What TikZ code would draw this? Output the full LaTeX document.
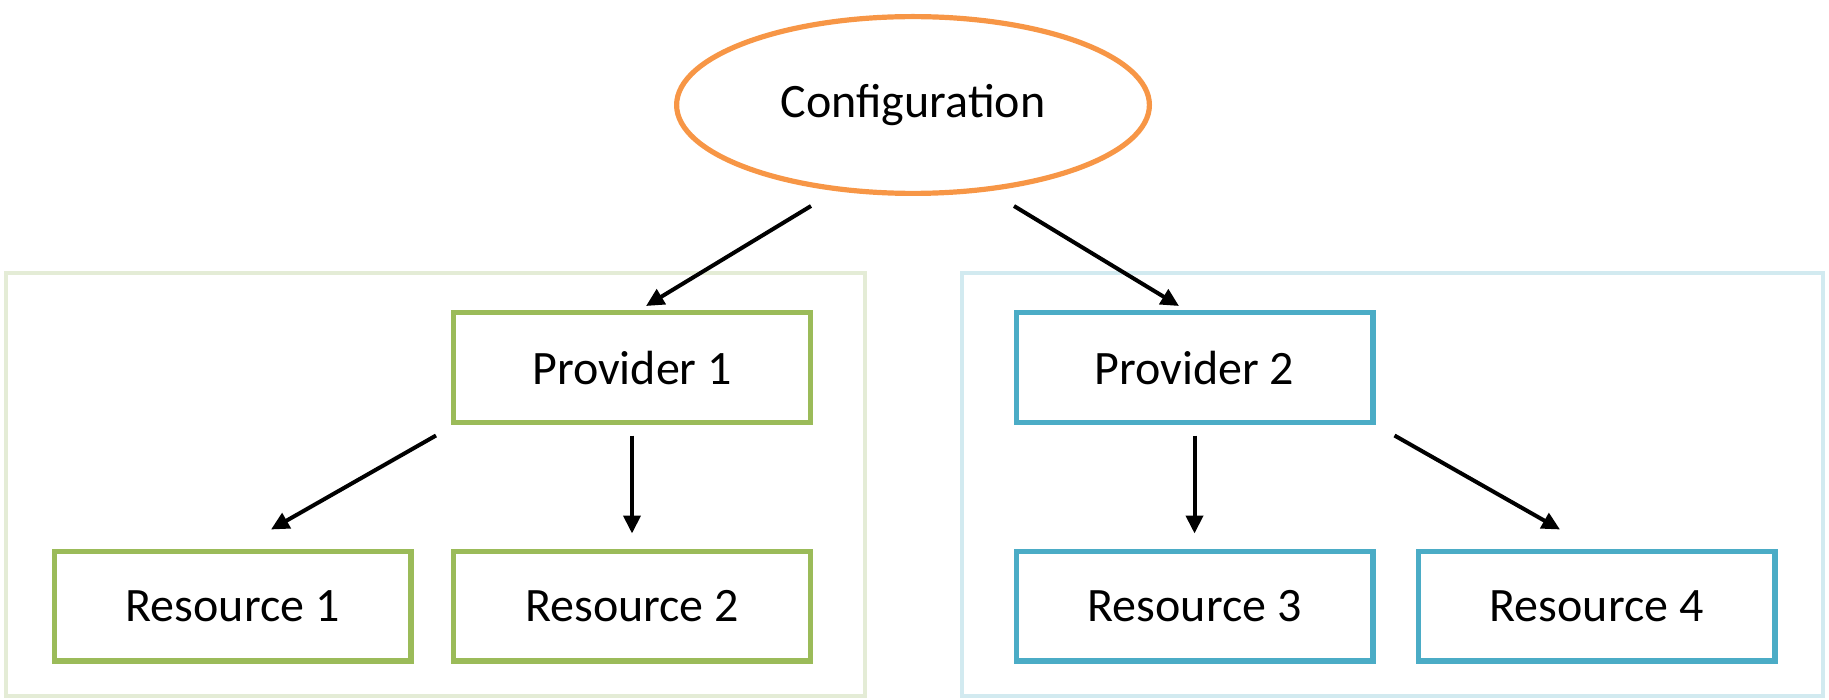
\documentclass[tikz,border=0pt]{standalone}
\usepackage{fontspec}
\setmainfont{Carlito}
\usetikzlibrary{arrows.meta,shapes.geometric}
\definecolor{confline}{HTML}{F79646}
\definecolor{grnline}{HTML}{9BBB59}
\definecolor{grnpale}{HTML}{E4ECD6}
\definecolor{bluline}{HTML}{4BACC6}
\definecolor{blupale}{HTML}{D2EAF0}

\begin{document}
\begin{tikzpicture}[x=0.5pt,y=-0.5pt,
    box/.style={draw,line width=2.6pt,minimum width=178.4pt,minimum height=54.9pt,
      inner sep=0pt,font=\fontsize{24}{28}\selectfont},
    arr/.style={-{Triangle[length=9pt,width=8.5pt]},line width=2pt}]
  \useasboundingbox (0,0) rectangle (1829,700);
  % the two provider groups
  \draw [grnpale,line width=2.4pt] (6,273) rectangle (865,696);
  \draw [blupale,line width=2.4pt] (962,273) rectangle (1823,696);
  \node (conf) [ellipse,draw=confline,line width=2.6pt,minimum width=236.4pt,
    minimum height=88.4pt,inner sep=0pt,font=\fontsize{24}{28}\selectfont]
    at (913,105) {Configuration};
%%
  \node (p1) [box,draw=grnline] at (632,367.5) {Provider 1};
  \node (r1) [box,draw=grnline] at (232.5,606) {Resource 1};
  \node (r2) [box,draw=grnline] at (632,606) {Resource 2};
%%
  \node (p2) [box,draw=bluline] at (1194.5,367.5) {Provider 2};
  \node (r3) [box,draw=bluline] at (1194.5,606) {Resource 3};
  \node (r4) [box,draw=bluline] at (1596.5,606) {Resource 4};
%%
  \draw [arr] ([xshift=-51pt,yshift=-5pt]conf.south) -- ([xshift=7pt,yshift=2pt]p1.north);
  \draw [arr] ([xshift=50.5pt,yshift=-5pt]conf.south) -- ([xshift=-7.75pt,yshift=2pt]p2.north);
  \draw [arr] ([xshift=-7.5pt,yshift=-5.25pt]p1.south west) -- ([xshift=19.25pt,yshift=9.5pt]r1.north);
  \draw [arr] ([yshift=-5.25pt]p1.south) -- ([yshift=7.5pt]r2.north);
  \draw [arr] ([yshift=-5.25pt]p2.south) -- ([yshift=7.5pt]r3.north);
  \draw [arr] ([xshift=9.5pt,yshift=-5.25pt]p2.south east) -- ([xshift=-18.25pt,yshift=9.5pt]r4.north);
\end{tikzpicture}
\end{document}
